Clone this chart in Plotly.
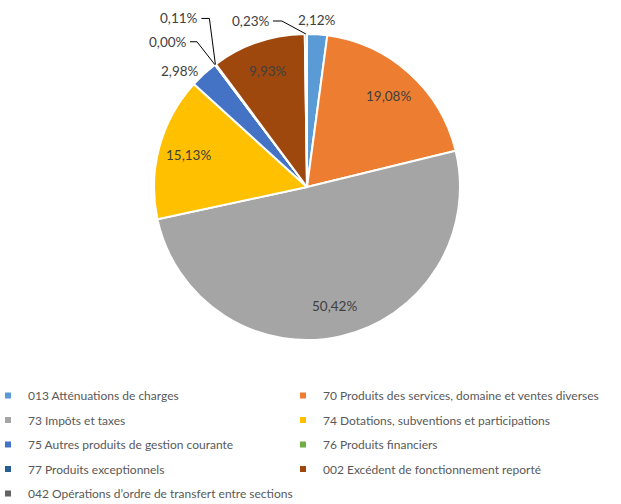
import math
import plotly.graph_objects as go

# ---- data ----
categories = [
    "013 Atténuations de charges",
    "70 Produits des services, domaine et ventes diverses",
    "73 Impôts et taxes",
    "74 Dotations, subventions et participations",
    "75 Autres produits de gestion courante",
    "76 Produits financiers",
    "77 Produits exceptionnels",
    "002 Excédent de fonctionnement reporté",
    "042 Opérations d’ordre de transfert entre sections",
]
shares = [2.12, 19.08, 50.42, 15.13, 2.98, 0.00, 0.11, 9.93, 0.23]
colors = ["#5B9BD5", "#ED7D31", "#A5A5A5", "#FFC000", "#4472C4",
          "#70AD47", "#255E91", "#9E480E", "#636363"]

W, H = 621, 504
CX, CY, R = 307, 187, 153  # pie centre / radius in px


def px(x):
    return x / W


def py(y):
    return 1 - y / H


labels_txt = [f"{v:.2f}".replace(".", ",") + "%" for v in shares]
LABEL_FONT = dict(family="Lato", size=13.5, color="#404040")

fig = go.Figure()
fig.add_trace(go.Pie(
    labels=categories, values=shares, textinfo="none",
    hovertext=labels_txt, hoverinfo="label+text",
    sort=False, direction="clockwise", rotation=0,
    marker=dict(colors=colors, line=dict(color="white", width=2)),
    showlegend=False,
    domain=dict(x=[px(CX - R), px(CX + R)], y=[py(CY + R), py(CY - R)]),
))

# legend entries (two columns)
for i, (name, c) in enumerate(zip(categories, colors)):
    fig.add_trace(go.Scatter(
        x=[None], y=[None], mode="markers", name=name,
        marker=dict(symbol="square", size=6, color=c),
        legend="legend" if i % 2 == 0 else "legend2",
        legendgroup=name, showlegend=True, hoverinfo="skip",
    ))

# data labels
leader = {  # label elbow offsets in px (dx, dy, horizontal run)
    5: (-18, -23, -7),
    6: (-6, -46, -8),
    8: (-24, -13, -9),
}
shapes, annotations = [], []
cum = 0.0
total = sum(shares)
for i, v in enumerate(shares):
    mid = (cum + v / 2) / total * 2 * math.pi
    cum += v
    s, c = math.sin(mid), math.cos(mid)
    if v >= 5:
        r = 0.8 * R
        annotations.append(dict(
            x=px(CX + r * s), y=py(CY - r * c), xref="paper", yref="paper",
            text=labels_txt[i], showarrow=False, xanchor="center", yanchor="middle",
            font=LABEL_FONT))
    elif v >= 1:
        r = R + 4
        if abs(s) < 0.2:
            xa, ya = "center", ("bottom" if c > 0 else "top")
        else:
            xa, ya = ("left" if s > 0 else "right"), "middle"
        annotations.append(dict(
            x=px(CX + r * s), y=py(CY - r * c), xref="paper", yref="paper",
            text=labels_txt[i], showarrow=False, xanchor=xa, yanchor=ya,
            font=LABEL_FONT))
    else:
        ex, ey = CX + R * s, CY - R * c
        dx, dy, run = leader[i]
        bx, by = ex + dx, ey + dy
        tx = bx + run
        shapes.append(dict(
            type="path", xref="paper", yref="paper",
            path=f"M{px(ex)},{py(ey)} L{px(bx)},{py(by)} L{px(tx)},{py(by)}",
            line=dict(color="#000000", width=1),
        ))
        annotations.append(dict(
            x=px(tx - 1), y=py(by), xref="paper", yref="paper",
            text=labels_txt[i], showarrow=False, xanchor="right", yanchor="middle",
            font=LABEL_FONT))

legend_common = dict(
    yanchor="top", y=py(381), xanchor="left",
    traceorder="grouped", tracegroupgap=5.5, itemwidth=30,
    font=dict(family="Lato", size=12, color="#595959"),
    bgcolor="rgba(0,0,0,0)",
)
fig.update_layout(
    width=W, height=H,
    margin=dict(l=0, r=0, t=0, b=0, autoexpand=False),
    paper_bgcolor="white", plot_bgcolor="white",
    xaxis=dict(visible=False), yaxis=dict(visible=False),
    legend=dict(x=px(-12), **legend_common),
    legend2=dict(x=px(283), **legend_common),
    shapes=shapes, annotations=annotations,
    font=dict(family="Lato"),
)

fig.write_html("out.html", config={"displayModeBar": False},
               post_script="document.body.style.margin='0';")
